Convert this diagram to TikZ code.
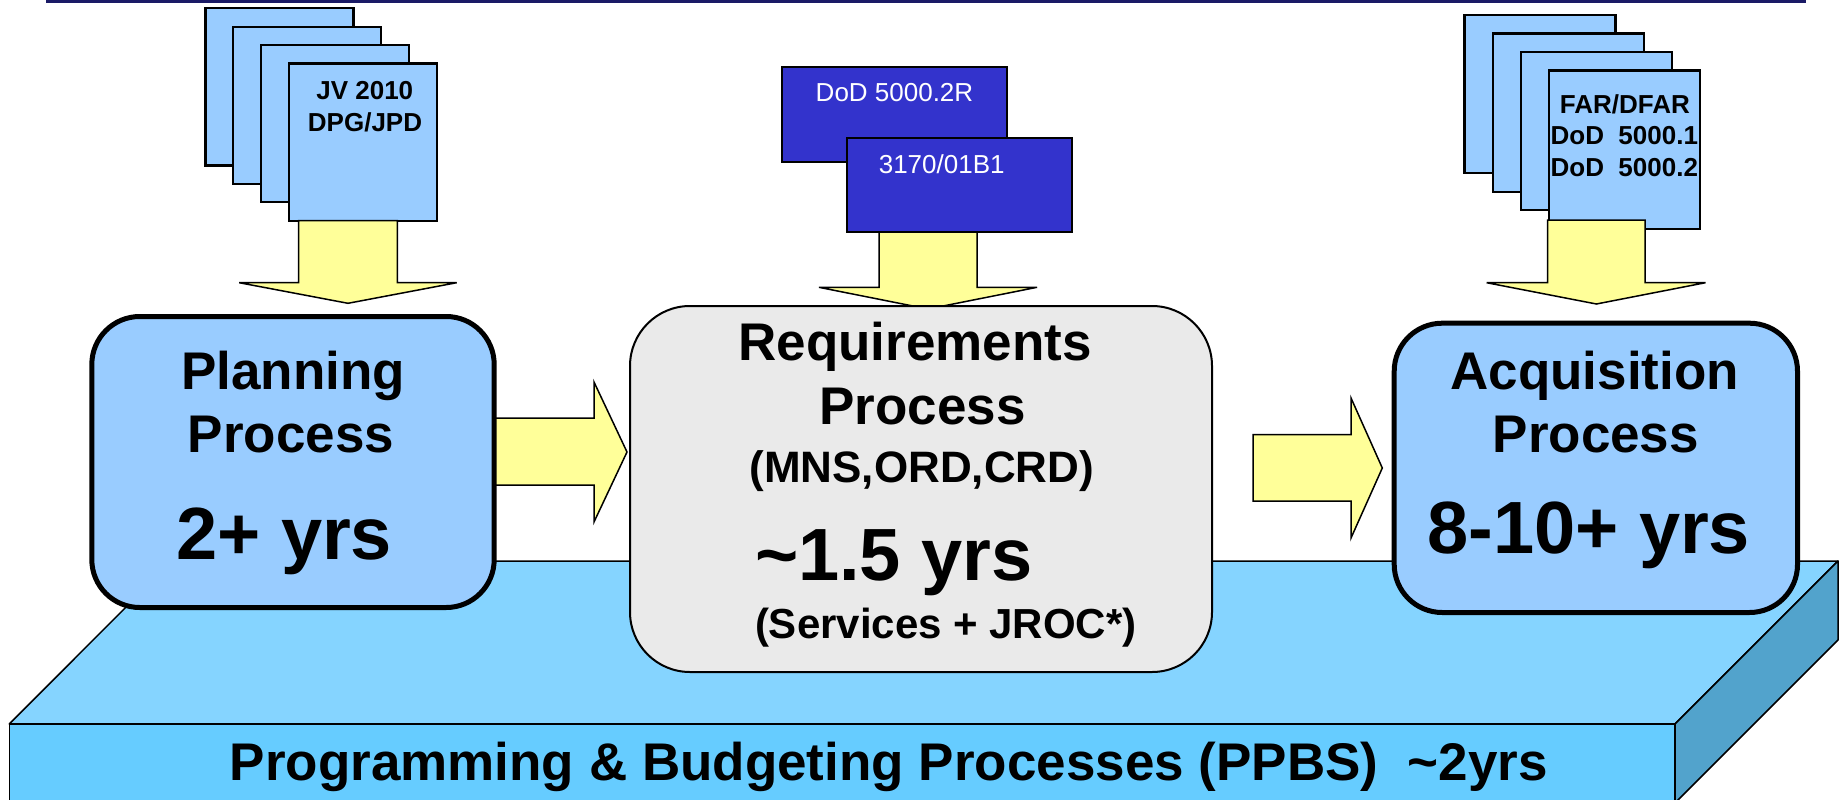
\documentclass[tikz,border=0pt]{standalone}
\usepackage{fontspec}
\setmainfont{Liberation Sans}
\definecolor{docblue}{HTML}{99CCFF}
\definecolor{arrowyel}{HTML}{FFFF99}
\definecolor{reqgray}{HTML}{EAEAEA}
\definecolor{darkdoc}{HTML}{3333CC}
\definecolor{slabtop}{HTML}{85D4FF}
\definecolor{slabfront}{HTML}{66CCFF}
\definecolor{slabside}{HTML}{52A3CC}
\definecolor{topnavy}{HTML}{1A1A66}
\begin{document}
\begin{tikzpicture}[x=1pt,y=-1pt,
  lbl/.style={inner sep=0pt, outer sep=0pt, anchor=base, font=\bfseries\fontsize{53}{60}\selectfont},
  biglbl/.style={lbl, font=\bfseries\fontsize{74}{80}\selectfont},
  midlbl/.style={lbl, font=\bfseries\fontsize{44}{50}\selectfont},
  smllbl/.style={lbl, font=\bfseries\fontsize{42}{48}\selectfont},
  doclbl/.style={lbl, font=\bfseries\fontsize{26}{30}\selectfont},
  wlbl/.style={lbl, text=white, font=\fontsize{26}{30}\selectfont},
  docpage/.style={draw=black, line width=2.2pt, fill=docblue, inner sep=0pt, outer sep=0pt, anchor=north west},
  darkpage/.style={draw=black, line width=2.2pt, fill=darkdoc, inner sep=0pt, outer sep=0pt, anchor=north west, minimum width=225pt, minimum height=95pt},
  blockarrow/.style={draw=black, line width=1.5pt, fill=arrowyel, line join=miter},
  procbox/.style={draw=black, line width=5pt, fill=docblue, rounded corners=48pt, inner sep=0pt, outer sep=0pt},
  reqbox/.style={draw=black, line width=2pt, fill=reqgray, rounded corners=60pt, inner sep=0pt, outer sep=0pt},
  slab/.style={draw=black, line width=1.5pt, line join=round}
]
\useasboundingbox (0,0) rectangle (1841,800);

% top rule
\coordinate (ruleL) at (46,1.3);
\coordinate (ruleR) at (1806,1.3);
\draw[topnavy, line width=3pt] (ruleL) -- (ruleR);

% PPBS slab
\coordinate (sFL) at (9.3,724);
\coordinate (sBL) at (172,561);
\coordinate (sBR) at (1838,561);
\coordinate (sFR) at (1675,724);
\coordinate (sFRb) at (1675,803);
\coordinate (sFLb) at (9.3,803);
\coordinate (sBRb) at (1838,640);
\filldraw[slab, fill=slabtop] (sFL) -- (sBL) -- (sBR) -- (sFR) -- cycle;
\filldraw[slab, fill=slabfront] (sFL) -- (sFR) -- (sFRb) -- (sFLb) -- cycle;
\filldraw[slab, fill=slabside] (sFR) -- (sBR) -- (sBRb) -- (sFRb) -- cycle;
\node[lbl] (ppbs) at (888.8,780) {Programming \& Budgeting Processes (PPBS)~~\textasciitilde 2yrs};

% left document stack
\foreach \i/\nm in {0/ld1,1/ld2,2/ld3,3/ld4}{
  \node[docpage, minimum width=148pt, minimum height=157pt] (\nm) at (205.5+27.8*\i, 8.4+18.4*\i) {};
}
\node[doclbl] (jv) at (364.8,99.3) {JV 2010};
\node[doclbl] (dpg) at (365,131.7) {DPG/JPD};

% right document stack
\foreach \i/\nm in {0/rd1,1/rd2,2/rd3,3/rd4}{
  \node[docpage, minimum width=151pt, minimum height=158pt] (\nm) at (1464.4+28.3*\i, 15.1+18.5*\i) {};
}
\node[doclbl] (far) at (1624.9,113.3) {FAR/DFAR};
\node[doclbl] (dod1) at (1624.3,144.5) {DoD~~5000.1};
\node[doclbl] (dod2) at (1624.3,176) {DoD~~5000.2};

% dark blue documents
\node[darkpage] (dk1) at (782,66.8) {};
\node[darkpage, minimum height=94pt] (dk2) at (847.3,137.8) {};
\node[wlbl] (dkt1) at (894.5,101.7) {DoD 5000.2R};
\node[wlbl] (dkt2) at (941.7,173.3) {3170/01B1};

% downward block arrows
\filldraw[blockarrow] (298.5,220.5) -- (397.4,220.5) -- (397.4,282.7) -- (456.7,282.7)
  -- (348,303.3) -- (239.2,282.7) -- (298.5,282.7) -- cycle;
\filldraw[blockarrow] (879,232) -- (977,232) -- (977,287.3) -- (1037.1,287.3)
  -- (928,309) -- (818.9,287.3) -- (879,287.3) -- cycle;
\filldraw[blockarrow] (1547.6,220) -- (1645.2,220) -- (1645.2,282.7) -- (1705.5,282.7)
  -- (1596.4,304) -- (1486.6,282.7) -- (1547.6,282.7) -- cycle;

% horizontal block arrows
\filldraw[blockarrow] (480,418) -- (594,418) -- (594,382) -- (627,452)
  -- (594,522) -- (594,485) -- (480,485) -- cycle;
\filldraw[blockarrow] (1253,434.5) -- (1351,434.5) -- (1351,398) -- (1382.3,468)
  -- (1351,538) -- (1351,501) -- (1253,501) -- cycle;

% process boxes
\node[procbox, minimum width=402.4pt, minimum height=291pt] (plan) at (293,462) {};
\node[reqbox, minimum width=582pt, minimum height=366pt] (req) at (921,489) {};
\node[procbox, minimum width=403.3pt, minimum height=289.3pt] (acq) at (1595.85,467.85) {};

% planning text
\node[lbl] (planA) at (293,389.3) {Planning};
\node[lbl] (planB) at (291,452.7) {Process};
\node[biglbl] (planC) at (284.2,559.3) {2+ yrs};

% requirements text
\node[lbl] (reqA) at (915,360.7) {Requirements};
\node[lbl] (reqB) at (922.5,424.3) {Process};
\node[midlbl] (reqC) at (921.7,482.7) {(MNS,ORD,CRD)};
\node[biglbl, anchor=base west] (reqD) at (755,580) {\textasciitilde 1.5 yrs};
\node[smllbl, anchor=base west] (reqE) at (755,638.3) {(Services + JROC*)};

% acquisition text
\node[lbl] (acqA) at (1594.7,389.3) {Acquisition};
\node[lbl] (acqB) at (1595.8,452.7) {Process};
\node[biglbl] (acqC) at (1588.7,553.3) {8-10+ yrs};
\end{tikzpicture}
\end{document}
